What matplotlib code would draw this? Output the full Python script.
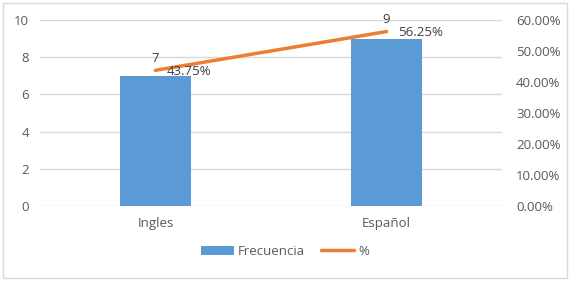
import matplotlib.pyplot as plt
from matplotlib.patches import Rectangle
from matplotlib.ticker import FuncFormatter

plt.rcParams['font.family'] = ['Open Sans', 'DejaVu Sans']

categories = ['Ingles', 'Español']
frecuencia = [7, 9]
porcentaje = [0.4375, 0.5625]

bar_color = '#5B9BD5'
line_color = '#ED7D31'
text_color = '#404040'
grid_color = '#D9D9D9'

fig = plt.figure(figsize=(5.70, 2.81), dpi=100)
fig.patches.append(Rectangle((0.006, 0.01), 0.988, 0.98, transform=fig.transFigure,
                             fill=False, edgecolor='#D9D9D9', linewidth=1))
ax = fig.add_axes([0.070, 0.267, 0.811, 0.662])
x = list(range(len(categories)))

ax.bar(x, frecuencia, width=0.31, color=bar_color, label='Frecuencia', zorder=2)
ax.set_xlim(-0.5, 1.5)
ax.set_ylim(0, 10)
ax.set_yticks(range(0, 11, 2))
ax.set_xticks(x)
ax.set_xticklabels(categories)
ax.grid(axis='y', color=grid_color, linewidth=1, zorder=0)
for s in ax.spines.values():
    s.set_visible(False)
ax.tick_params(length=0, labelsize=9.5, colors='#595959', pad=8)
ax.tick_params(axis='x', pad=8)

ax2 = ax.twinx()
ax2.plot(x, porcentaje, color=line_color, linewidth=2.5, label='%', zorder=3,
         solid_capstyle='round')
ax2.set_ylim(0, 0.6)
ax2.set_yticks([i / 10 for i in range(7)])
ax2.yaxis.set_major_formatter(FuncFormatter(lambda v, p: f'{v * 100:.2f}%'))
for s in ax2.spines.values():
    s.set_visible(False)
ax2.tick_params(length=0, labelsize=9.5, colors='#595959', pad=10)

for xi, f, p in zip(x, frecuencia, porcentaje):
    ax2.annotate(str(f), (xi, p), xytext=(0, 4), textcoords='offset points',
                 ha='center', va='bottom', fontsize=9.5, color=text_color)
    ax2.annotate(f'{p * 100:.2f}%', (xi, p), xytext=(8, -1), textcoords='offset points',
                 ha='left', va='center', fontsize=9.5, color=text_color)

h1, l1 = ax.get_legend_handles_labels()
h2, l2 = ax2.get_legend_handles_labels()
fig.legend(h1 + h2, l1 + l2, loc='center', bbox_to_anchor=(0.5, 0.105), ncol=2,
           frameon=False, fontsize=9.5, labelcolor='#595959', handlelength=2.5,
           handletextpad=0.3, columnspacing=1.2)

fig.savefig('out.png', dpi=100)
